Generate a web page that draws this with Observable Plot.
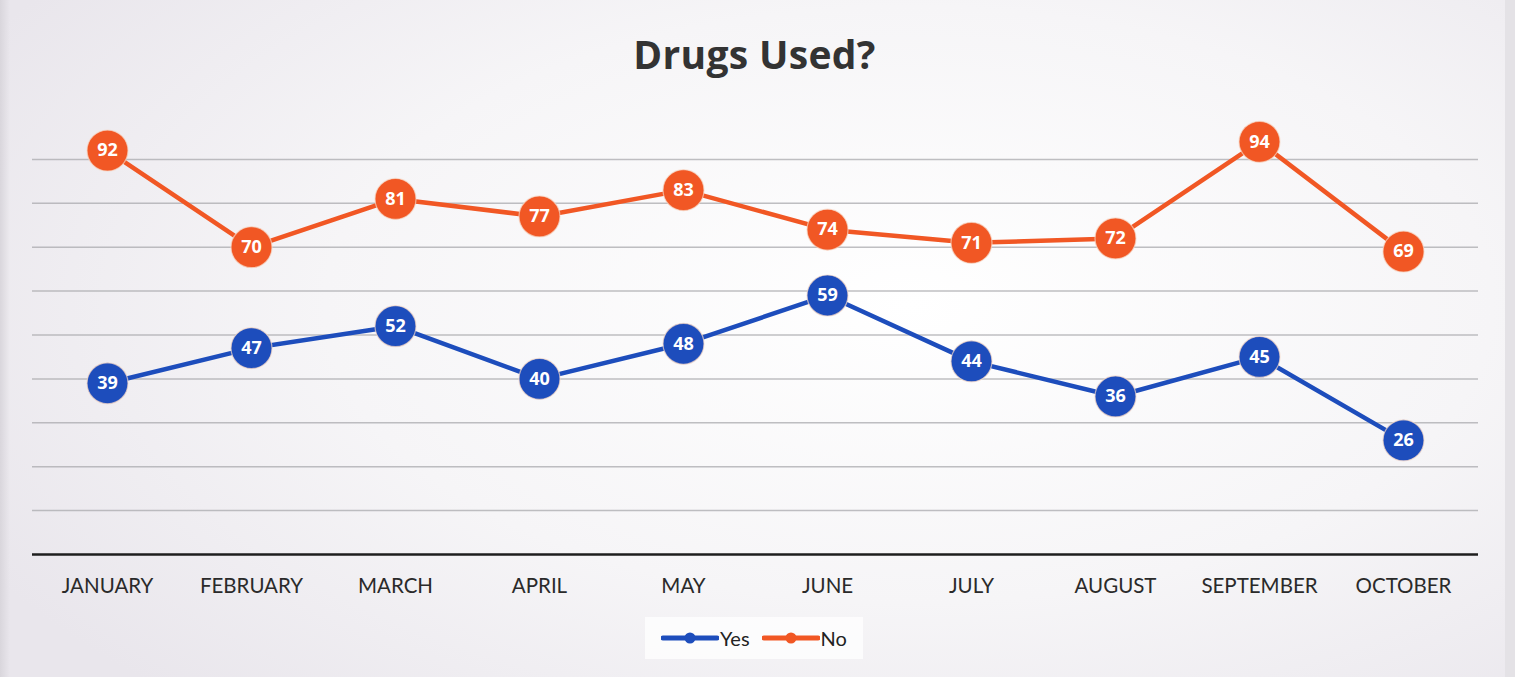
<!DOCTYPE html>
<html>
<head>
<meta charset="utf-8">
<script src="https://cdn.jsdelivr.net/npm/d3@7"></script>
<script src="https://cdn.jsdelivr.net/npm/@observablehq/plot@0.6"></script>
<style>
  html, body { margin: 0; padding: 0; }
  body {
    width: 1515px; height: 677px; overflow: hidden;
    background: radial-gradient(ellipse 70% 80% at 60% 45%, #ffffff 0%, #f6f5f7 55%, #e9e6ec 100%);
    font-family: Lato, "Open Sans", sans-serif;
    position: relative;
  }
  #edgeL { position: absolute; left: 0; top: 0; width: 10px; height: 677px; background: linear-gradient(to right, #d9d6dc, rgba(233,230,236,0)); }
  #edgeR { position: absolute; left: 1505px; top: 0; width: 10px; height: 677px; background: #e4e2e6; }
  #title {
    height: 100px; line-height: 108px; text-align: center;
    font-family: "Open Sans", Lato, sans-serif; font-weight: 700; font-size: 39px; color: #333;
    letter-spacing: 0.3px; padding-right: 6px;
  }
  #chart { height: 504px; }
  #legend {
    position: absolute; left: 645px; top: 617px; width: 218px; height: 42px;
    background: rgba(255,255,255,0.75);
    display: flex; align-items: center; justify-content: center; gap: 0px;
    font-family: Lato, sans-serif; font-size: 20px; color: #222;
  }
  #legend .item { display: flex; align-items: center; margin: 0 6px; }
  #legend svg { display: block; margin-right: 1px; }
</style>
</head>
<body>
<div id="edgeL"></div>
<div id="edgeR"></div>
<div id="title">Drugs Used?</div>
<div id="chart"></div>
<div id="legend"></div>
<script>
const months = ["JANUARY","FEBRUARY","MARCH","APRIL","MAY","JUNE","JULY","AUGUST","SEPTEMBER","OCTOBER"];
const yesValues = [39, 47, 52, 40, 48, 59, 44, 36, 45, 26];
const noValues  = [92, 70, 81, 77, 83, 74, 71, 72, 94, 69];
const seriesNames = ["Yes", "No"];
const seriesColors = ["#1d4dbc", "#f15724"];
const gridValues = [10, 20, 30, 40, 50, 60, 70, 80, 90];

const data = [];
months.forEach((m, i) => {
  data.push({month: m, series: "Yes", value: yesValues[i]});
  data.push({month: m, series: "No", value: noValues[i]});
});

const chart = Plot.plot({
  width: 1515,
  height: 504,
  marginLeft: 32,
  marginRight: 37,
  marginTop: 15,
  marginBottom: 50,
  style: {background: "transparent", fontFamily: "Lato, sans-serif", overflow: "visible"},
  x: {type: "point", domain: months, padding: 0.5, label: null},
  y: {domain: [0, 100], axis: null},
  color: {domain: seriesNames, range: seriesColors},
  marks: [
    Plot.ruleY(gridValues, {stroke: "#a9a9ad", strokeWidth: 1.5, strokeOpacity: 0.75}),
    Plot.ruleY([0], {stroke: "#1e1e1e", strokeWidth: 2.5}),
    Plot.axisX({tickSize: 0, tickPadding: 24, fontSize: 20.5, fill: "#2a2a2a", label: null}),
    Plot.line(data, {x: "month", y: "value", z: "series", stroke: "series", strokeWidth: 4.5}),
    Plot.dot(data, {x: "month", y: "value", fill: "series", r: 20.5, stroke: "#f7d9c8", strokeWidth: 1.2, strokeOpacity: 0.7}),
    Plot.text(data, {x: "month", y: "value", text: d => String(d.value), fill: "white", fontWeight: "bold", fontSize: 18, fontFamily: "Open Sans, sans-serif"})
  ]
});
document.getElementById("chart").appendChild(chart);

const legend = document.getElementById("legend");
seriesNames.forEach((name, i) => {
  const item = document.createElement("div");
  item.className = "item";
  item.innerHTML = `<svg width="58" height="14"><line x1="2" x2="56" y1="7" y2="7" stroke="${seriesColors[i]}" stroke-width="5" stroke-linecap="round"/><circle cx="29" cy="7" r="5.5" fill="${seriesColors[i]}"/></svg><span>${name}</span>`;
  legend.appendChild(item);
});
</script>
</body>
</html>
